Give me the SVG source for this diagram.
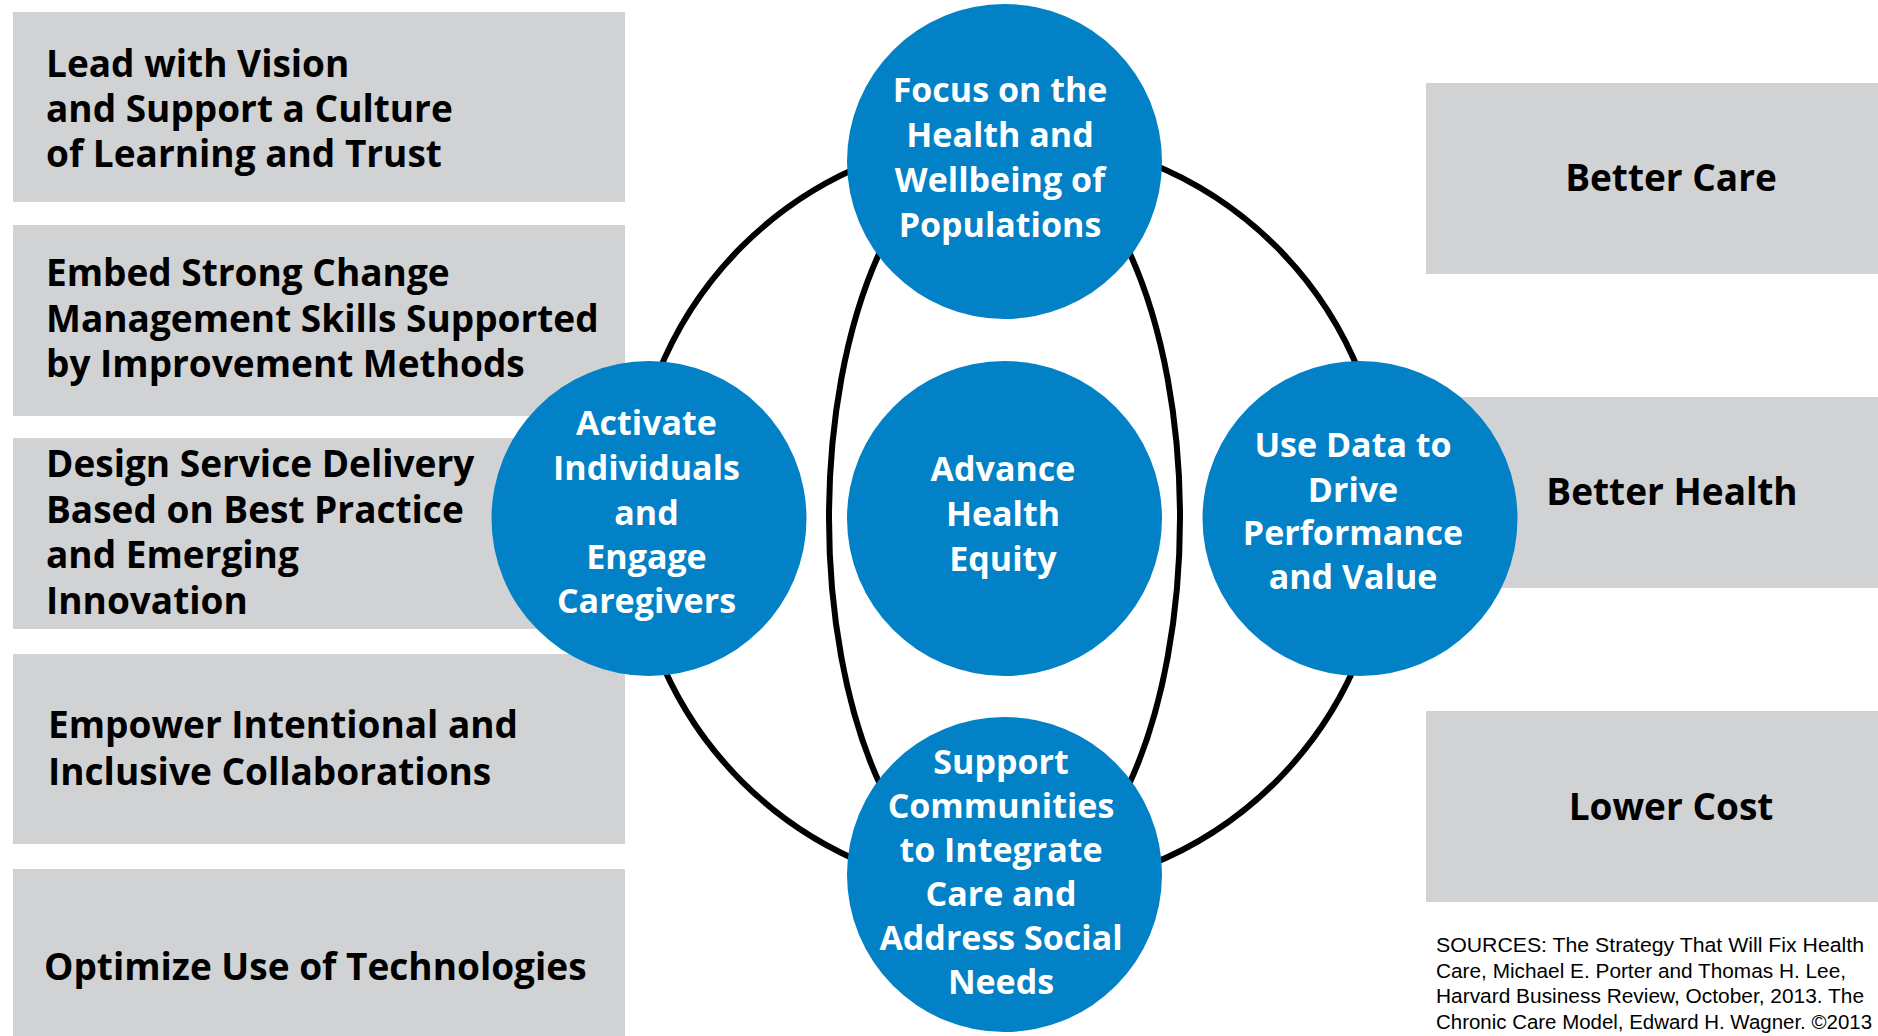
<svg xmlns="http://www.w3.org/2000/svg" width="1878" height="1036" viewBox="0 0 1878 1036">
  <style>
    .box { fill: #D1D2D4; }
    .btxt { font-family: "Open Sans", "Liberation Sans", sans-serif; font-weight: 700; font-size: 37px; fill: #000; }
    .rtxt { font-family: "Open Sans", "Liberation Sans", sans-serif; font-weight: 700; font-size: 37px; fill: #000; text-anchor: middle; }
    .circ { fill: #0281C6; }
    .ctxt { font-family: "Open Sans", "Liberation Sans", sans-serif; font-weight: 700; font-size: 34px; fill: #fff; text-anchor: middle; }
    .ring { fill: none; stroke: #000; stroke-width: 6; }
    .src { font-family: "Liberation Sans", Arial, sans-serif; font-size: 20.5px; fill: #000; }
  </style>
  <rect width="1878" height="1036" fill="#fff"/>

  <g id="box-lead">
    <rect class="box" x="13" y="12" width="612" height="190"/>
    <text class="btxt" x="46" y="77">Lead with Vision</text>
    <text class="btxt" x="46" y="122">and Support a Culture</text>
    <text class="btxt" x="46" y="167">of Learning and Trust</text>
  </g>
  <g id="box-embed">
    <rect class="box" x="13" y="225" width="612" height="191"/>
    <text class="btxt" x="46" y="286">Embed Strong Change</text>
    <text class="btxt" x="46" y="332">Management Skills Supported</text>
    <text class="btxt" x="46" y="377">by Improvement Methods</text>
  </g>
  <g id="box-design">
    <rect class="box" x="13" y="438" width="612" height="191"/>
    <text class="btxt" x="46" y="477">Design Service Delivery</text>
    <text class="btxt" x="46" y="523">Based on Best Practice</text>
    <text class="btxt" x="46" y="568">and Emerging</text>
    <text class="btxt" x="46" y="614">Innovation</text>
  </g>
  <g id="box-empower">
    <rect class="box" x="13" y="654" width="612" height="190"/>
    <text class="btxt" x="48" y="738">Empower Intentional and</text>
    <text class="btxt" x="48" y="785">Inclusive Collaborations</text>
  </g>
  <g id="box-optimize">
    <rect class="box" x="13" y="869" width="612" height="167"/>
    <text class="btxt" x="44" y="980">Optimize Use of Technologies</text>
  </g>

  <g id="box-better-care">
    <rect class="box" x="1426" y="83" width="452" height="191"/>
    <text class="rtxt" x="1671" y="191">Better Care</text>
  </g>
  <g id="box-better-health">
    <rect class="box" x="1426" y="397" width="452" height="191"/>
    <text class="rtxt" x="1672" y="505">Better Health</text>
  </g>
  <g id="box-lower-cost">
    <rect class="box" x="1426" y="711" width="452" height="191"/>
    <text class="rtxt" x="1671" y="820">Lower Cost</text>
  </g>

  <g id="connectors">
    <circle class="ring" cx="1009" cy="514" r="378"/>
    <ellipse class="ring" cx="1004.5" cy="518" rx="175.5" ry="378"/>
  </g>

  <g id="node-focus">
    <circle class="circ" cx="1004.5" cy="161.5" r="157.5"/>
    <text class="ctxt" x="1000" y="102">Focus on the</text>
    <text class="ctxt" x="1000" y="147">Health and</text>
    <text class="ctxt" x="1000" y="192">Wellbeing of</text>
    <text class="ctxt" x="1000" y="237">Populations</text>
  </g>
  <g id="node-activate">
    <circle class="circ" cx="649" cy="518.5" r="157.5"/>
    <text class="ctxt" x="646.5" y="435">Activate</text>
    <text class="ctxt" x="646.5" y="480">Individuals</text>
    <text class="ctxt" x="646.5" y="525">and</text>
    <text class="ctxt" x="646.5" y="569">Engage</text>
    <text class="ctxt" x="646.5" y="613">Caregivers</text>
  </g>
  <g id="node-advance">
    <circle class="circ" cx="1004.5" cy="518.5" r="157.5"/>
    <text class="ctxt" x="1003" y="481">Advance</text>
    <text class="ctxt" x="1003" y="526">Health</text>
    <text class="ctxt" x="1003" y="571">Equity</text>
  </g>
  <g id="node-usedata">
    <circle class="circ" cx="1360" cy="518.5" r="157.5"/>
    <text class="ctxt" x="1353" y="457">Use Data to</text>
    <text class="ctxt" x="1353" y="502">Drive</text>
    <text class="ctxt" x="1353" y="545">Performance</text>
    <text class="ctxt" x="1353" y="589">and Value</text>
  </g>
  <g id="node-support">
    <circle class="circ" cx="1004.5" cy="874.5" r="157.5"/>
    <text class="ctxt" x="1001" y="774">Support</text>
    <text class="ctxt" x="1001" y="818">Communities</text>
    <text class="ctxt" x="1001" y="862">to Integrate</text>
    <text class="ctxt" x="1001" y="906">Care and</text>
    <text class="ctxt" x="1001" y="950">Address Social</text>
    <text class="ctxt" x="1001" y="994">Needs</text>
  </g>

  <g id="sources">
    <text class="src" x="1436" y="952" textLength="428" lengthAdjust="spacingAndGlyphs">SOURCES: The Strategy That Will Fix Health</text>
    <text class="src" x="1436" y="978" textLength="410" lengthAdjust="spacingAndGlyphs">Care, Michael E. Porter and Thomas H. Lee,</text>
    <text class="src" x="1436" y="1003" textLength="428" lengthAdjust="spacingAndGlyphs">Harvard Business Review, October, 2013. The</text>
    <text class="src" x="1436" y="1029" textLength="436" lengthAdjust="spacingAndGlyphs">Chronic Care Model, Edward H. Wagner. ©2013</text>
  </g>
</svg>
